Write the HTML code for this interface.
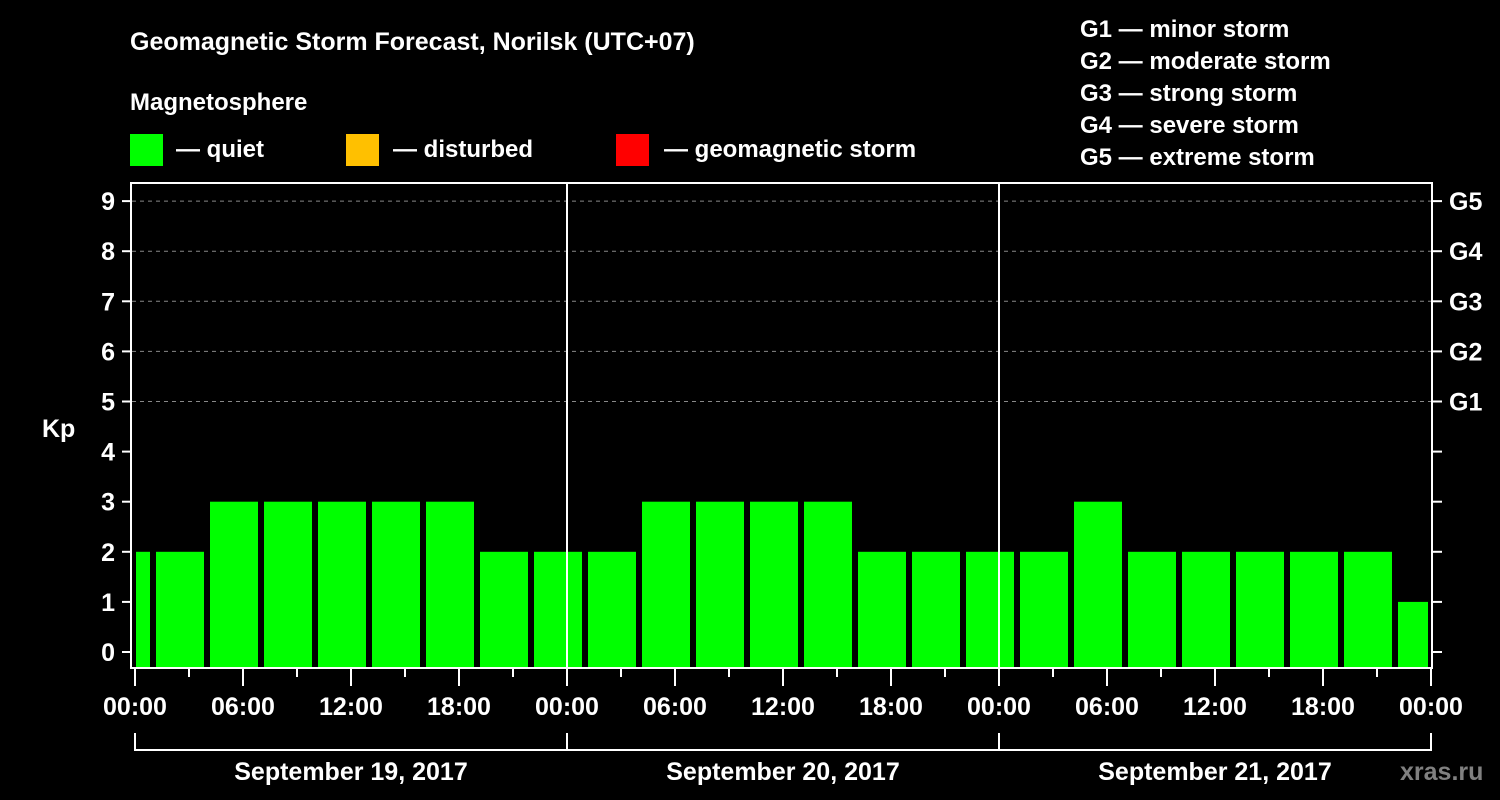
<!DOCTYPE html>
<html><head><meta charset="utf-8"><style>
body{margin:0;background:#000;width:1500px;height:800px;overflow:hidden}
svg{display:block;font-family:"Liberation Sans",Arial,sans-serif;font-weight:bold}
</style></head><body>
<svg id="c" width="1500" height="800">
<rect width="1500" height="800" fill="#000"/>
<text x="130" y="50" fill="#fff" font-size="25">Geomagnetic Storm Forecast, Norilsk (UTC+07)</text>
<text x="130" y="110" fill="#fff" font-size="24">Magnetosphere</text>
<g><rect x="130" y="134" width="33" height="32" fill="#00ff00"/><text x="176" y="157" fill="#fff" font-size="24">— quiet</text></g>
<g><rect x="346" y="134" width="33" height="32" fill="#ffc000"/><text x="393" y="157" fill="#fff" font-size="24">— disturbed</text></g>
<g><rect x="616" y="134" width="33" height="32" fill="#ff0000"/><text x="664" y="157" fill="#fff" font-size="24">— geomagnetic storm</text></g>
<g fill="#fff" font-size="24">
<text x="1080" y="37">G1 — minor storm</text><text x="1080" y="69">G2 — moderate storm</text><text x="1080" y="101">G3 — strong storm</text><text x="1080" y="133">G4 — severe storm</text><text x="1080" y="165">G5 — extreme storm</text>
</g>
<text x="42" y="437" fill="#fff" font-size="25">Kp</text>
<text x="1400" y="780" fill="#808080" font-size="25">xras.ru</text>
<defs><clipPath id="pc"><rect x="136" y="184" width="1292" height="484"/></clipPath></defs>
<g id="grid"></g><g id="bars" clip-path="url(#pc)"></g><g id="axes"></g>
</svg>
<script>
const kpValues=[2,2,3,3,3,3,3,2,2,2,3,3,3,3,2,2,2,2,3,2,2,2,2,2,1];
const hourLabels=["00:00","06:00","12:00","18:00"];
const dayLabels=["September 19, 2017","September 20, 2017","September 21, 2017"];
const kpTicks=[0,1,2,3,4,5,6,7,8,9];
const gLabels=["G1","G2","G3","G4","G5"];
const NS="http://www.w3.org/2000/svg";
const X0=135,PXH=18,Y0=652,PXK=50.1,BOT=668;
const xs=h=>X0+h*PXH, ys=k=>Y0-k*PXK;
function mk(p,t,a){const e=document.createElementNS(NS,t);for(const k in a)e.setAttribute(k,a[k]);p.appendChild(e);return e;}
const grid=document.getElementById('grid'),bars=document.getElementById('bars'),axes=document.getElementById('axes');
kpValues.forEach((v,i)=>{const c=xs(i*3-0.5);const col=v>=5?'#ff0000':v>=4?'#ffc000':'#00ff00';
const r=mk(bars,'rect',{x:c-24,y:ys(v),width:48,height:BOT-ys(v),fill:col});

});
kpTicks.forEach(k=>{const y=ys(k);
if(k>=5){const g=mk(grid,'line',{x1:132,x2:1432,y1:y,y2:y,stroke:'#888','stroke-dasharray':'4 4','stroke-width':1});

}
mk(axes,'line',{x1:122,x2:131,y1:y,y2:y,stroke:'#fff','stroke-width':2});
mk(axes,'line',{x1:1433,x2:1442,y1:y,y2:y,stroke:'#fff','stroke-width':2});
const t=mk(axes,'text',{x:115,y:y+9,fill:'#fff','font-size':25,'text-anchor':'end'});t.textContent=k;


if(k>=5){const g=mk(axes,'text',{x:1449,y:y+9,fill:'#fff','font-size':25});g.textContent=gLabels[k-5];

}});
mk(axes,'rect',{x:131,y:183,width:1301,height:485,fill:'none',stroke:'#fff','stroke-width':2});
for(let d=1;d<3;d++)mk(axes,'line',{x1:xs(d*24),x2:xs(d*24),y1:183,y2:668,stroke:'#fff','stroke-width':2});
for(let h=0;h<=72;h+=3){const maj=h%6==0;mk(axes,'line',{x1:xs(h),x2:xs(h),y1:668,y2:maj?686:677,stroke:'#fff','stroke-width':2});
if(maj){const t=mk(axes,'text',{x:xs(h),y:715,fill:'#fff','font-size':25,'text-anchor':'middle'});t.textContent=hourLabels[(h/6)%4];

}}
mk(axes,'line',{x1:xs(0),x2:xs(72),y1:750,y2:750,stroke:'#fff','stroke-width':2});
for(let d=0;d<=3;d++)mk(axes,'line',{x1:xs(d*24),x2:xs(d*24),y1:733,y2:751,stroke:'#fff','stroke-width':2});
dayLabels.forEach((s,d)=>{const t=mk(axes,'text',{x:xs(d*24+12),y:780,fill:'#fff','font-size':25,'text-anchor':'middle'});t.textContent=s;

});
</script>
</body></html>
